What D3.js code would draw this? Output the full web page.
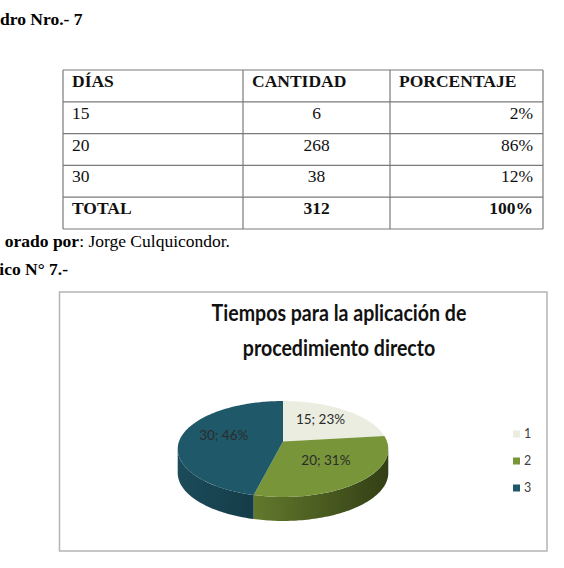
<!DOCTYPE html>
<html>
<head>
<meta charset="utf-8">
<script src="https://cdn.jsdelivr.net/npm/d3@7"></script>
<style>
  body { margin: 0; background: #fff; }
  svg { display: block; }
</style>
</head>
<body>
<svg id="chart" width="564" height="568"></svg>
<script>
// table data (Cuadro Nro.- 7)
const tableHeaders = ["DÍAS", "CANTIDAD", "PORCENTAJE"];
const dias = ["15", "20", "30"];
const cantidad = [6, 268, 38];
const porcentaje = ["2%", "86%", "12%"];
const totalRow = ["TOTAL", "312", "100%"];

// pie data (the chart plots the DÍAS column)
const pieCategories = ["15", "20", "30"];
const pieValues = [15, 20, 30];
const legendLabels = ["1", "2", "3"];
const topColors = ["#ecede1", "#789639", "#1f5969"];
const sideColors = [
  ["#c9cabd", "#a4a596"],
  ["#62792c", "#333f15"],
  ["#1c4b5a", "#153c48"]
];

const svg = d3.select("#chart");
const serif = "'Liberation Serif', 'Times New Roman', serif";
const sans = "Lato, 'Open Sans', sans-serif";

// ---- header texts (page is cropped on the left) ----
svg.append("text")
  .attr("x", 0).attr("y", 25)
  .attr("font-family", serif).attr("font-weight", "bold").attr("font-size", 17.5)
  .text("dro Nro.- 7");

// ---- table ----
const colEdges = [63, 243, 390, 543];
const rows = [tableHeaders]
  .concat(dias.map((d, i) => [d, String(cantidad[i]), porcentaje[i]]))
  .concat([totalRow]);
const y = d3.scaleBand(d3.range(rows.length), [70, 229]);

const tg = svg.append("g");
tg.append("g")
  .attr("stroke", "#7a7a7a").attr("stroke-width", 1.2).attr("fill", "none")
  .call(g => g.selectAll("line.h")
    .data(d3.range(rows.length + 1))
    .join("line")
      .attr("x1", colEdges[0]).attr("x2", colEdges[3])
      .attr("y1", i => i < rows.length ? y(i) : y(rows.length - 1) + y.bandwidth())
      .attr("y2", i => i < rows.length ? y(i) : y(rows.length - 1) + y.bandwidth()))
  .call(g => g.selectAll("line.v")
    .data(colEdges)
    .join("line")
      .attr("x1", d => d).attr("x2", d => d)
      .attr("y1", y(0)).attr("y2", y(rows.length - 1) + y.bandwidth()));

rows.forEach((row, ri) => {
  const header = ri === 0, total = ri === rows.length - 1;
  row.forEach((cell, ci) => {
    let x, anchor;
    if (header || ci === 0) { x = colEdges[ci] + 9; anchor = "start"; }
    else if (ci === 1) { x = (colEdges[1] + colEdges[2]) / 2; anchor = "middle"; }
    else { x = colEdges[3] - 10; anchor = "end"; }
    tg.append("text")
      .attr("x", x).attr("y", y(ri) + 17)
      .attr("text-anchor", anchor)
      .attr("font-family", serif).attr("font-size", 17.5)
      .attr("font-weight", header || total ? "bold" : "normal")
      .attr("fill", "#111")
      .text(cell);
  });
});

const by = svg.append("text")
  .attr("y", 247)
  .attr("font-family", serif).attr("font-size", 17.5);
by.append("tspan").attr("font-weight", "bold").text("orado por");
by.append("tspan").text(": Jorge Culquicondor.");
by.attr("x", 230 - by.node().getComputedTextLength());

svg.append("text")
  .attr("x", 68).attr("y", 275)
  .attr("text-anchor", "end")
  .attr("font-family", serif).attr("font-weight", "bold").attr("font-size", 17.5)
  .text("ico N° 7.-");

// ---- chart frame ----
svg.append("rect")
  .attr("x", 59.5).attr("y", 292).attr("width", 487.5).attr("height", 259)
  .attr("fill", "#fff").attr("stroke", "#b4b4b4").attr("stroke-width", 1.5);

// title: Calibri-like, so squeeze Lato horizontally to the original width
const titleLines = ["Tiempos para la aplicación de", "procedimiento directo"];
const title = svg.append("g")
  .attr("font-family", sans).attr("font-weight", "bold").attr("fill", "#111")
  .attr("font-size", 23).attr("text-anchor", "middle");
const tl = title.selectAll("text")
  .data(titleLines)
  .join("text")
    .attr("x", 0).attr("y", (d, i) => 321 + i * 35)
    .text(d => d);
const sx = 255 / tl.node().getComputedTextLength();
title.attr("transform", `translate(339,0) scale(${sx},1)`);

// ---- 3D pie ----
const cx = 283, cy = 441.5, rx = 104, ry = 46.8, k = 0.156, depth = 24;
function proj(theta, f, dy = 0) {
  const u = f * Math.sin(theta), v = f * Math.cos(theta);
  const s = 1 / (1 + k * v);
  return [cx + rx * u * s, cy - ry * v * s + dy];
}
function rim(a0, a1, dy = 0) {
  const n = Math.max(2, Math.ceil((a1 - a0) / 0.02));
  return d3.range(n + 1).map(i => proj(a0 + (a1 - a0) * i / n, 1, dy));
}

const arcs = d3.pie().sort(null)(pieValues);
const total = d3.sum(pieValues);
const pct = d3.format(".0%");

// visible front wall is between the two silhouette points
const frontA = Math.acos(-k), frontB = 2 * Math.PI - Math.acos(-k);

const defs = svg.append("defs");
const pieG = svg.append("g");

arcs.forEach((a, i) => {
  const s0 = Math.max(a.startAngle, frontA), s1 = Math.min(a.endAngle, frontB);
  if (s1 <= s0) return;
  const top = rim(s0, s1), bottom = rim(s0, s1, depth).reverse();
  const gid = "side" + i;
  const gr = defs.append("linearGradient").attr("id", gid)
    .attr("gradientUnits", "userSpaceOnUse")
    .attr("x1", d3.min(top, p => p[0])).attr("x2", d3.max(top, p => p[0]))
    .attr("y1", 0).attr("y2", 0);
  gr.append("stop").attr("offset", 0).attr("stop-color", sideColors[i][0]);
  gr.append("stop").attr("offset", 1).attr("stop-color", sideColors[i][1]);
  pieG.append("path")
    .attr("d", d3.line()(top.concat(bottom)) + "Z")
    .attr("fill", `url(#${gid})`);
});

arcs.forEach((a, i) => {
  const pts = [[cx, cy]].concat(rim(a.startAngle, a.endAngle));
  pieG.append("path")
    .attr("d", d3.line()(pts) + "Z")
    .attr("fill", topColors[i]);
});

pieG.selectAll("text")
  .data(arcs)
  .join("text")
    .attr("transform", a => `translate(${proj((a.startAngle + a.endAngle) / 2, 0.58)})`)
    .attr("text-anchor", "middle").attr("dy", "0.1em")
    .attr("font-family", sans).attr("font-size", 13.5).attr("fill", "#2b2b2b")
    .text((a, i) => `${pieCategories[i]}; ${pct(a.value / total)}`);

// ---- legend ----
const leg = svg.append("g").attr("font-family", sans).attr("font-size", 12.5).attr("fill", "#404040");
const ly = d3.scalePoint(legendLabels, [434, 488]);
leg.selectAll("rect")
  .data(legendLabels)
  .join("rect")
    .attr("x", 513).attr("y", d => ly(d) - 3.5)
    .attr("width", 7).attr("height", 7)
    .attr("fill", (d, i) => topColors[i]);
leg.selectAll("text")
  .data(legendLabels)
  .join("text")
    .attr("x", 524).attr("y", d => ly(d)).attr("dy", "0.35em")
    .text(d => d);
</script>
</body>
</html>
